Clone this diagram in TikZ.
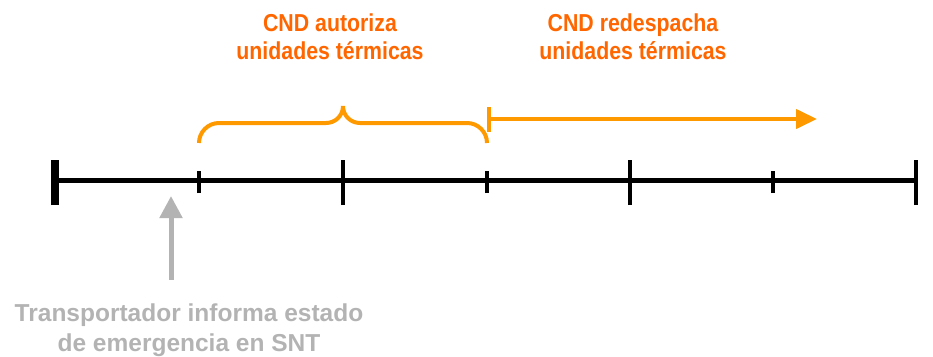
\documentclass[tikz,border=0pt]{standalone}
\usepackage{fontspec}
\setmainfont{Liberation Sans}
\newfontfamily\narrowsans[FakeStretch=0.87]{Liberation Sans}
\usetikzlibrary{arrows.meta}
\definecolor{braceorange}{HTML}{FF9900}
\definecolor{textorange}{HTML}{FF6600}
\definecolor{lightgray}{HTML}{B3B3B3}
\begin{document}
\begin{tikzpicture}[x=1pt,y=-1pt,
  axis/.style={line width=5pt,black},
  bigtick/.style={line width=4.5pt,black},
  smalltick/.style={line width=3.5pt,black},
  orangeline/.style={line width=4pt,braceorange},
  orangelabel/.style={text=textorange,font=\narrowsans\bfseries\fontsize{24.5}{28}\selectfont,align=center,inner sep=0pt},
  graylabel/.style={text=lightgray,font=\bfseries\fontsize{24.5}{30}\selectfont,align=center,inner sep=0pt}]
\useasboundingbox (0,0) rectangle (933,356);
% timeline coordinates
\coordinate (t0) at (55,180);
\coordinate (t1) at (199,180);
\coordinate (t2) at (343,180);
\coordinate (t3) at (487,180);
\coordinate (t4) at (630,180);
\coordinate (t5) at (773,180);
\coordinate (t6) at (916,180);
\draw[axis] (t0) -- (t6);
\draw[line width=8pt] ([yshift=-25]t0) -- ([yshift=20]t0);
\foreach \t in {t2,t4,t6} \draw[bigtick] ([yshift=-25]\t) -- ([yshift=20]\t);
\foreach \t in {t1,t3,t5} \draw[smalltick] ([yshift=-13]\t) -- ([yshift=9]\t);
% brace
\coordinate (bl) at (199,143);
\coordinate (bm) at (343,106);
\coordinate (br) at (487,143);
\draw[orangeline] (bl) .. controls (199,132) and (208,123) .. (219,123) -- (326,123)
  .. controls (335,123) and (343,116) .. (bm)
  .. controls (343,116) and (351,123) .. (360,123) -- (467,123)
  .. controls (478,123) and (487,132) .. (br);
% redispatch arrow
\coordinate (as) at (487,119);
\coordinate (ae) at (817,119);
\draw[orangeline,{Bar[width=25pt,line width=4pt]}-{Triangle[length=21pt,width=19pt]}] (as) -- (ae);
% gray arrow
\coordinate (gs) at (171,280);
\coordinate (ge) at (171,196);
\draw[lightgray,line width=5pt,-{Triangle[length=22pt,width=22pt]}] (gs) -- (ge);
% labels
\node[orangelabel] (lab1) at (330,36.5) {CND autoriza\\unidades térmicas};
\node[orangelabel] (lab2) at (633,36.5) {CND redespacha\\unidades térmicas};
\node[graylabel] (lab3) at (189,330) {Transportador informa estado\\de emergencia en SNT};
\end{tikzpicture}
\end{document}
